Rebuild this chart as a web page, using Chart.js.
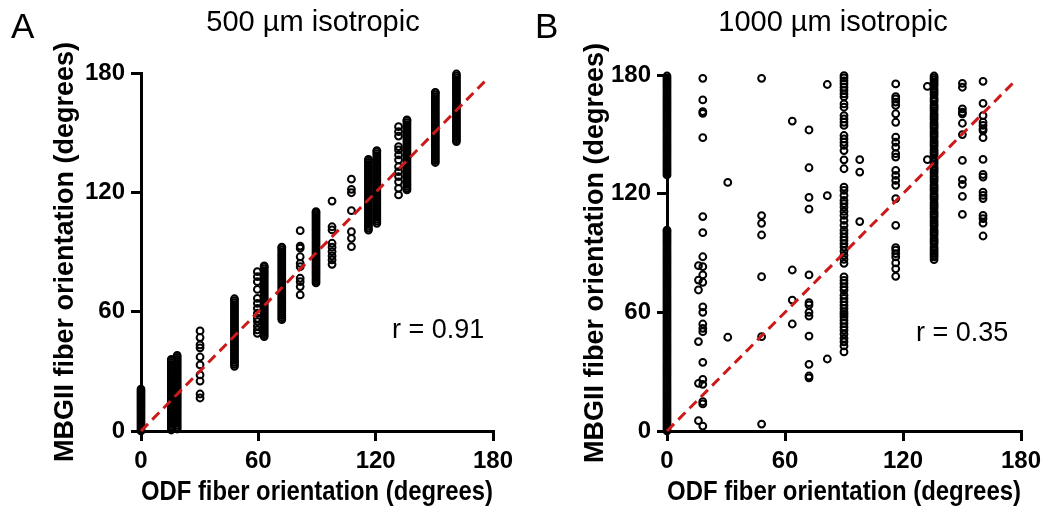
<!DOCTYPE html>
<html>
<head>
<meta charset="utf-8">
<script src="https://cdn.jsdelivr.net/npm/chart.js@4.4.1/dist/chart.umd.min.js"></script>
<style>
  body { margin: 0; background: #fff; }
  #wrap { position: relative; width: 1059px; height: 507px; overflow: hidden; font-family: "Liberation Sans", Arial, sans-serif; color: #000; }
  canvas { position: absolute; top: 0; }
  .txt { position: absolute; white-space: nowrap; line-height: 1; }
  .letter { font-size: 35px; }
  .ttl { font-size: 29px; transform: translateX(-50%); }
  .rval { font-size: 27px; }
</style>
</head>
<body>
<div id="wrap">
  <canvas id="chartA" width="529" height="507" style="left:0"></canvas>
  <canvas id="chartB" width="530" height="507" style="left:529px"></canvas>
  <div class="txt letter" style="left:11px; top:8px">A</div>
  <div class="txt letter" style="left:535px; top:8px">B</div>
  <div class="txt ttl" style="left:313px; top:7px">500 µm isotropic</div>
  <div class="txt ttl" style="left:833px; top:7px">1000 µm isotropic</div>
  <div class="txt rval" style="left:392px; top:316px">r = 0.91</div>
  <div class="txt rval" style="left:916px; top:319px">r = 0.35</div>
</div>
<script>
    // panel A : 500 um isotropic, one column of MBGII values per ODF angle
    let odfA = [0, 15.5, 18.5, 30.2, 47.8, 59.5, 63, 72, 81.4, 89.5, 97.7, 107.6, 116.3, 120.6, 131.7, 136, 150.5, 161.3];
    let mbgA = [
        [0, 1, 2, 3, 4, 5, 6, 7, 8, 9, 10, 11, 12, 13, 14, 15, 16, 17, 18, 19, 20, 21],
        [0.5, 1.5, 2.5, 3.5, 4.5, 5.5, 6.5, 7.5, 8.5, 9.5, 10.5, 11.5, 12.5, 13.5, 14.5, 15.5, 16.5, 17.5, 18.5, 19.5, 20.5, 21.5, 22.5, 23.5, 24.5, 25.5, 26.5, 27.5, 28.5, 29.5, 30.5, 31.5, 32.5, 33.5, 34.5, 35.5, 36],
        [1, 2, 3, 4, 5, 6, 7, 8, 9, 10, 11, 12, 13, 14, 15, 16, 17, 18, 19, 20, 21, 22, 23, 24, 25, 26, 27, 28, 29, 30, 31, 32, 33, 34, 35, 36, 37, 38],
        [50.3, 47, 43.3, 41.8, 37.2, 33.2, 28.2, 25.1, 18.6, 16.6],
        [32.5, 33.5, 34.5, 35.5, 36.5, 37.5, 38.5, 39.5, 40.5, 41.5, 42.5, 43.5, 44.5, 45.5, 46.5, 47.5, 48.5, 49.5, 50.5, 51.5, 52.5, 53.5, 54.5, 55.5, 56.5, 57.5, 58.5, 59.5, 60.5, 61.5, 62.5, 63.5, 64.5, 65.5, 66.5],
        [80.1, 77.6, 75.1, 71.2, 66.7, 64.2, 61.7, 59.2, 56.7, 55, 52.8, 50.8, 49.1],
        [47.5, 48.5, 49.5, 50.5, 51.5, 52.5, 53.5, 54.5, 55.5, 56.5, 57.5, 58.5, 59.5, 60.5, 61.5, 62.5, 63.5, 64.5, 65.5, 66.5, 67.5, 68.5, 69.5, 70.5, 71.5, 72.5, 73.5, 74.5, 75.5, 76.5, 77.5, 78.5, 79.5, 80.5, 81.5, 82.5, 83],
        [56, 57, 58, 59, 60, 61, 62, 63, 64, 65, 66, 67, 68, 69, 70, 71, 72, 73, 74, 75, 76, 77, 78, 79, 80, 81, 82, 83, 84, 85, 86, 87, 88, 89, 90, 91, 92, 92.5],
        [100.7, 93, 91.9, 87.6, 84.3, 82.6, 76.8, 75.1, 72.6, 68.4],
        [74.5, 75.5, 76.5, 77.5, 78.5, 79.5, 80.5, 81.5, 82.5, 83.5, 84.5, 85.5, 86.5, 87.5, 88.5, 89.5, 90.5, 91.5, 92.5, 93.5, 94.5, 95.5, 96.5, 97.5, 98.5, 99.5, 100.5, 101.5, 102.5, 103.5, 104.5, 105.5, 106.5, 107.5, 108.5, 109.5, 110.3],
        [115.6, 102.7, 101.1, 94.4, 92.4, 90.2, 88, 86, 83.8],
        [126.6, 121.5, 119.8, 110.8, 100.2, 96.9, 92.7],
        [101, 102, 103, 104, 105, 106, 107, 108, 109, 110, 111, 112, 113, 114, 115, 116, 117, 118, 119, 120, 121, 122, 123, 124, 125, 126, 127, 128, 129, 130, 131, 132, 133, 134, 135, 136, 136.6],
        [104.4, 105.5, 106.5, 107.5, 108.5, 109.5, 110.5, 111.5, 112.5, 113.5, 114.5, 115.5, 116.5, 117.5, 118.5, 119.5, 120.5, 121.5, 122.5, 123.5, 124.5, 125.5, 126.5, 127.5, 128.5, 129.5, 130.5, 131.5, 132.5, 133.5, 134.5, 135.5, 136.5, 137.5, 138.5, 139.5, 140.5, 141],
        [153, 150.5, 148.3, 143, 141.3, 138.8, 136.3, 132.9, 130.4, 127.9, 125.3, 122, 118.7],
        [121.2, 122, 123, 124, 125, 126, 127, 128, 129, 130, 131, 132, 133, 134, 135, 136, 137, 138, 139, 140, 141, 142, 143, 144, 145, 146, 147, 148, 149, 150, 151, 152, 153, 154, 155, 156, 156.4],
        [135, 136, 137, 138, 139, 140, 141, 142, 143, 144, 145, 146, 147, 148, 149, 150, 151, 152, 153, 154, 155, 156, 157, 158, 159, 160, 161, 162, 163, 164, 165, 166, 167, 168, 169, 170, 170.3],
        [145.5, 146.5, 147.5, 148.5, 149.5, 150.5, 151.5, 152.5, 153.5, 154.5, 155.5, 156.5, 157.5, 158.5, 159.5, 160.5, 161.5, 162.5, 163.5, 164.5, 165.5, 166.5, 167.5, 168.5, 169.5, 170.5, 171.5, 172.5, 173.5, 174.5, 175.5, 176.5, 177.5, 178.5, 179.5]
    ];

    // panel B : 1000 um isotropic
    let odfB = [0, 0, 16, 18.2, 30.9, 48.1, 63.7, 72.2, 81.5, 90, 98, 116.3, 132.4, 135.8, 150.2, 160.7];
    let mbgB = [
        [0, 1, 2, 3, 4, 5, 6, 7, 8, 9, 10, 11, 12, 13, 14, 15, 16, 17, 18, 19, 20, 21, 22, 23, 24, 25, 26, 27, 28, 29, 30, 31, 32, 33, 34, 35, 36, 37, 38, 39, 40,
         41, 42, 43, 44, 45, 46, 47, 48, 49, 50, 51, 52, 53, 54, 55, 56, 57, 58, 59, 60, 61, 62, 63, 64, 65, 66, 67, 68, 69, 70, 71, 72, 73, 74, 75, 76, 77, 78, 79, 80,
         81, 82, 83, 84, 85, 86, 87, 88, 89, 90, 91, 92, 93, 94, 95, 96, 97, 98, 99, 100, 101, 101.6],
        [129.5, 130.5, 131.5, 132.5, 133.5, 134.5, 135.5, 136.5, 137.5, 138.5, 139.5, 140.5, 141.5, 142.5, 143.5, 144.5, 145.5, 146.5, 147.5, 148.5, 149.5, 150.5, 151.5, 152.5, 153.5,
         154.5, 155.5, 156.5, 157.5, 158.5, 159.5, 160.5, 161.5, 162.5, 163.5, 164.5, 165.5, 166.5, 167.5, 168.5, 169.5, 170.5, 171.5, 172.5, 173.5, 174.5, 175.5, 176.5, 177.5, 178.5, 179.5],
        [83.6, 76.3, 71.3, 45.2, 24.1, 5.2],
        [178.3, 167.4, 161.5, 160.6, 148.3, 108.4, 100.3, 88.1, 83.1, 78.9, 75.2, 62.8, 60, 54.1, 51.9, 50.2, 34.7, 26.1, 23.6, 14.8, 13.7, 2.5],
        [125.7, 47.4],
        [178.3, 108.9, 105, 99.1, 78, 47.7, 3.5],
        [156.7, 81.4, 66.2, 54.1],
        [152.2, 133.1, 118.1, 112.2, 78.9, 64.9, 63.7, 60, 58.1, 48, 33.7, 27.8, 26.9],
        [175.2, 119, 36.4],
        [179.7, 178.5, 177, 175.5, 173.8, 172.1, 170.5, 169, 165.4, 163.7, 159.5, 157.8, 156.1, 154.5, 149.4, 147.7, 146, 144.4, 141.8, 137.1, 132.6,
         123.3, 121.7, 119.1, 116.6, 115, 113.2, 111, 109, 106.5, 104, 101.5, 99.8, 98, 96.4, 94.7, 93, 91, 88.8, 86.8, 84.8,
         77.9, 76.2, 74.6, 72.8, 71.2, 68.7, 67, 65.3, 63.6, 61.9, 60.2, 59, 57.7, 56, 54.4, 52.6, 51, 49, 46.8, 45.1, 43, 40],
        [137.2, 130.9, 105.9],
        [175.5, 169.1, 167.9, 166.3, 164.6, 160.4, 156.1, 148.6, 146, 143.5, 140.2, 138.5, 131.8, 129.2, 126.7, 124.2, 117.5, 104, 92.7, 91.4, 89.7, 88, 85, 82, 78.2],
        [174.2, 137.2],
        [179.5, 178.5, 177.5, 176.5, 175.5, 174.5, 173, 172, 171, 170, 168.5, 167.5, 166.5, 165, 164, 163, 162, 160.5, 159.5, 158.5, 157.5, 156, 155, 154, 153, 151.5, 150.5,
         149.5, 148.5, 147, 146, 145, 144, 142.5, 141.5, 140.5, 139.5, 138, 137, 136, 135, 133.5, 132.5, 131.5, 130.5, 129, 128, 127, 126, 124.5, 123.5, 122.5, 121.5,
         120, 119, 118, 117, 115.5, 114.5, 113.5, 112.5, 111, 110, 109, 108, 106.5, 105.5, 104.5, 103.5, 102, 101, 100, 99, 97.5, 96.5, 95.5, 94.5, 93, 92, 91, 90, 89, 88, 86.7],
        [175.8, 173.8, 162.9, 161.2, 160.4, 155.6, 149.9, 136.8, 127.1, 124.7, 118.6, 109.5],
        [176.8, 165.7, 159.5, 156.1, 154.5, 152.8, 151.9, 148.3, 137.3, 129.7, 128.4, 120.8, 119.1, 117.5, 109, 107.4, 105.1, 98.6]
    ];

    // identity line (dashed red) end points
    let fitA = [0, 177];
    let fitB = [0, 176.5];
    let axisTicks = [0, 60, 120, 180];

    let fontFam = "'Liberation Sans', Arial, sans-serif";

    function toPoints(xs, ys) {
        let pts = [];
        for (let i = 0; i < xs.length; i++) {
            for (let j = 0; j < ys[i].length; j++) {
                pts.push({ x: xs[i], y: ys[i][j] });
            }
        }
        return pts;
    }

    function makeChart(id, xs, ys, fit, pad, yTitlePad) {
        let w = pad.yWidth;
        return new Chart(document.getElementById(id), {
            type: 'scatter',
            data: {
                datasets: [{
                    type: 'line',
                    data: fit.map(v => ({ x: v, y: v })),
                    borderColor: '#cc1a1a',
                    borderWidth: 3,
                    borderDash: [10, 6],
                    pointRadius: 0,
                    fill: false,
                    order: 0,
                    clip: false
                }, {
                    data: toPoints(xs, ys),
                    pointRadius: 3.4,
                    pointBorderWidth: 2,
                    pointBorderColor: '#000',
                    pointBackgroundColor: 'rgba(0,0,0,0)',
                    order: 1,
                    clip: false
                }]
            },
            options: {
                responsive: false,
                animation: false,
                events: [],
                layout: { padding: { left: 0, right: pad.right, top: pad.top, bottom: 0 } },
                plugins: { legend: { display: false }, tooltip: { enabled: false } },
                scales: {
                    x: {
                        type: 'linear', min: 0, max: 180,
                        afterBuildTicks: s => { s.ticks = axisTicks.map(v => ({ value: v })) },
                        afterFit: s => { s.height = 507 - pad.bottomAxis },
                        ticks: { color: '#000', padding: 6, font: { family: fontFam, size: 24, weight: 'bold' } },
                        grid: { drawOnChartArea: false, tickLength: 10, lineWidth: 3, color: '#000' },
                        border: { width: 3, color: '#000' },
                        title: {
                            display: true, text: 'ODF fiber orientation (degrees)', color: '#000',
                            font: { family: fontFam, size: 27, weight: 'bold', lineHeight: 1 },
                            padding: { top: 0, bottom: 0.5 }
                        }
                    },
                    y: {
                        type: 'linear', min: 0, max: 180,
                        afterBuildTicks: s => { s.ticks = axisTicks.map(v => ({ value: v })) },
                        afterFit: s => { s.width = w },
                        ticks: { color: '#000', padding: 6, font: { family: fontFam, size: 24, weight: 'bold' } },
                        grid: { drawOnChartArea: false, tickLength: 10, lineWidth: 3, color: '#000' },
                        border: { width: 3, color: '#000' },
                        title: {
                            display: true, text: 'MBGII fiber orientation (degrees)', color: '#000',
                            font: { family: fontFam, size: 27, weight: 'bold', lineHeight: 1 },
                            padding: { top: yTitlePad, bottom: 0 }
                        }
                    }
                }
            }
        });
    }

    makeChart('chartA', odfA, mbgA, fitA, { yWidth: 141, right: 36, top: 73, bottomAxis: 431 }, 52.5);
    makeChart('chartB', odfB, mbgB, fitB, { yWidth: 138, right: 38, top: 75, bottomAxis: 431 }, 53.5);
</script>
</body>
</html>
